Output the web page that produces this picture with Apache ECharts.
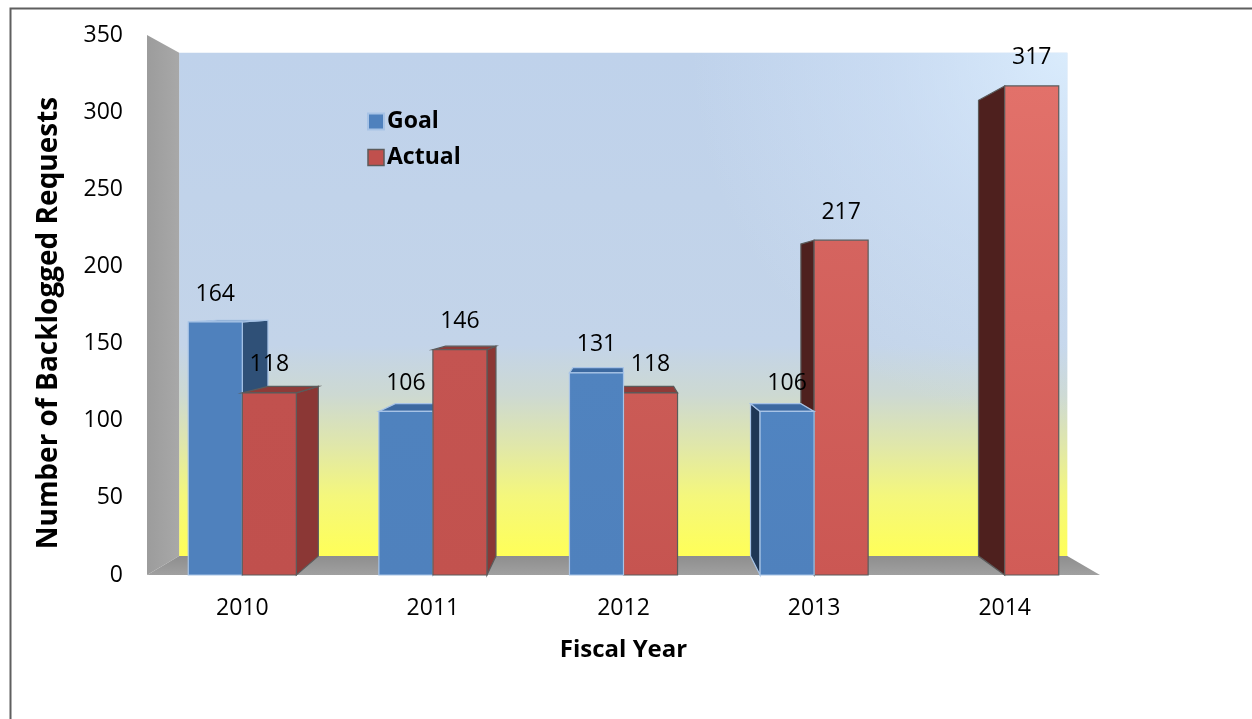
<!DOCTYPE html>
<html><head><meta charset="utf-8">
<script src="https://cdn.jsdelivr.net/npm/echarts@6/dist/echarts.min.js"></script>
<style>html,body{margin:0;padding:0;background:#fff}#c{width:1252px;height:719px}</style>
</head><body><div id="c"></div>
<script>
const categories = ['2010', '2011', '2012', '2013', '2014'];
const goalValues = [164, 106, 131, 106, null];
const actualValues = [118, 146, 118, 217, 317];
const seriesNames = ['Goal', 'Actual'];
const yMin = 0, yMax = 350, yInterval = 50;
const yTitle = 'Number of Backlogged Requests';
const xTitle = 'Fiscal Year';

const FONT = '"Open Sans", "Noto Sans", sans-serif';
const VP = [0.496, 0.485];
const DEPTH = 0.068;
const BAR_FRAC = 0.2835;

const STYLE = [
  { front: ['#4f81bd', '#4f81bd'], frontEnd: ['#5288c6', '#4f81bd'], sideR: '#2f5077', sideL: '#1f3756', top: '#3c69a0', stroke: '#a7c3e6' },
  { front: ['#c0504d', '#c0504d'], frontEnd: ['#e8766f', '#d45e59'], sideR: '#8b3735', sideL: '#4e201e', top: '#8e3b38', stroke: '#5b5b5b' }
];

function backPt(p, vp) { return [p[0] + DEPTH * (vp[0] - p[0]), p[1] + DEPTH * (vp[1] - p[1])]; }
function vpOf(cs) { return [cs.x + VP[0] * cs.width, cs.y + VP[1] * cs.height]; }
function hex2rgb(h) { return [parseInt(h.substr(1, 2), 16), parseInt(h.substr(3, 2), 16), parseInt(h.substr(5, 2), 16)]; }
function mix(a, b, t) {
  const A = hex2rgb(a), B = hex2rgb(b);
  return 'rgb(' + A.map((v, i) => Math.round(v + (B[i] - v) * t)).join(',') + ')';
}

function makeBarRender(sIdx) {
  const st = STYLE[sIdx];
  return function (params, api) {
    const cat = api.value(0), v = api.value(1);
    if (v == null || isNaN(v)) return;
    const cs = params.coordSys, vp = vpOf(cs);
    const base = api.coord([cat, 0]);
    const topP = api.coord([cat, v]);
    const bw = api.size([1, 0])[0] * BAR_FRAC;
    const x0 = sIdx === 0 ? base[0] - bw : base[0];
    const x1 = x0 + bw;
    const yb = base[1], yt = topP[1];
    const cx = (x0 + x1) / 2;
    const zb = Math.round(20000 - Math.abs(cx - vp[0]) * 10);
    const children = [];
    const strokeStyle = { stroke: st.stroke, lineWidth: 1.2 };
    if (x1 < vp[0]) {
      const pts = [[x1, yt], [x1, yb], backPt([x1, yb], vp), backPt([x1, yt], vp)];
      children.push({ type: 'polygon', z2: zb, shape: { points: pts }, style: Object.assign({ fill: st.sideR }, strokeStyle) });
    } else if (x0 > vp[0]) {
      const pts = [[x0, yt], [x0, yb], backPt([x0, yb], vp), backPt([x0, yt], vp)];
      children.push({ type: 'polygon', z2: zb, shape: { points: pts }, style: Object.assign({ fill: st.sideL }, strokeStyle) });
    }
    if (yt > vp[1]) {
      const pts = [[x0, yt], [x1, yt], backPt([x1, yt], vp), backPt([x0, yt], vp)];
      children.push({ type: 'polygon', z2: zb + 1, shape: { points: pts }, style: Object.assign({ fill: st.top }, strokeStyle) });
    }
    const f = Math.pow(Math.max(0, Math.min(1, (cx - cs.x) / cs.width)), 2);
    const cTop = mix(st.front[0], st.frontEnd[0], f);
    const cBot = mix(st.front[1], st.frontEnd[1], f);
    children.push({
      type: 'rect', z2: zb + 2,
      shape: { x: x0, y: yt, width: bw, height: yb - yt },
      style: Object.assign({
        fill: new echarts.graphic.LinearGradient(0, 0, 0, 1, [{ offset: 0, color: cTop }, { offset: 1, color: cBot }])
      }, strokeStyle)
    });
    children.push({
      type: 'text', z2: 50000,
      style: { x: cx, y: yt - 28, text: String(v), font: '23px ' + FONT, fill: '#000', align: 'center', verticalAlign: 'middle' }
    });
    return { type: 'group', children: children };
  };
}

function renderWalls(params, api) {
  const cs = params.coordSys, vp = vpOf(cs);
  const L = cs.x, R = cs.x + cs.width, T = cs.y, B = cs.y + cs.height;
  const bTL = backPt([L, T], vp), bTR = backPt([R, T], vp), bBL = backPt([L, B], vp), bBR = backPt([R, B], vp);
  const wall = { x: bTL[0], y: bTL[1], width: bTR[0] - bTL[0], height: bBL[1] - bTL[1] };
  return {
    type: 'group',
    children: [
      { type: 'rect', z2: 1, shape: wall,
        style: { fill: new echarts.graphic.LinearGradient(0, 0, 0, 1, [
          { offset: 0, color: '#bfd2eb' }, { offset: 0.58, color: '#c3d4e9' }, { offset: 0.68, color: '#cdd9d2' },
          { offset: 0.78, color: '#e0e7aa' }, { offset: 0.88, color: '#f4f77c' }, { offset: 1, color: '#ffff58' }]) } },
      { type: 'rect', z2: 2, shape: wall,
        style: { fill: new echarts.graphic.RadialGradient(1, 0, 0.75, [
          { offset: 0, color: 'rgba(222,240,255,0.85)' }, { offset: 0.5, color: 'rgba(215,232,252,0.4)' }, { offset: 1, color: 'rgba(215,232,252,0)' }]) } },
      { type: 'polygon', z2: 3, shape: { points: [[L, T], [L, B], bBL, bTL] },
        style: { fill: new echarts.graphic.LinearGradient(0, 0, 1, 0, [{ offset: 0, color: '#9c9c9c' }, { offset: 1, color: '#a8a8a8' }]) } },
      { type: 'polygon', z2: 3, shape: { points: [[L, B], [R, B], bBR, bBL] },
        style: { fill: new echarts.graphic.LinearGradient(0, 0, 0, 1, [{ offset: 0, color: '#8e8e8e' }, { offset: 1, color: '#a0a0a0' }]) } }
    ]
  };
}

const chart = echarts.init(document.getElementById('c'), null, { renderer: 'canvas' });
chart.setOption({
  animation: false,
  backgroundColor: '#ffffff',
  textStyle: { fontFamily: FONT },
  graphic: [{ type: 'rect', left: 8, top: 6, shape: { width: 1400, height: 900 }, style: { fill: 'none', stroke: '#5f5f5f', lineWidth: 2 }, silent: true }],
  grid: { left: 147, right: 152, top: 35, bottom: 144, containLabel: false },
  legend: {
    orient: 'vertical', left: 362, top: 105, itemWidth: 16, itemHeight: 16, itemGap: 13,
    textStyle: { fontSize: 23, fontWeight: 'bold', color: '#000', fontFamily: FONT, padding: [0, 0, 0, -2] },
    data: [
      { name: seriesNames[0], icon: 'rect', itemStyle: { color: '#4f81bd', borderColor: '#a7c3e6', borderWidth: 2 } },
      { name: seriesNames[1], icon: 'rect', itemStyle: { color: '#c0504d', borderColor: '#5b5b5b', borderWidth: 1.5 } }
    ]
  },
  xAxis: {
    type: 'category', data: categories,
    axisLine: { show: false }, axisTick: { show: false },
    axisLabel: { fontSize: 23, color: '#000', margin: 22, fontFamily: FONT },
    name: xTitle, nameLocation: 'middle', nameGap: 63,
    nameTextStyle: { fontSize: 24, fontWeight: 'bold', color: '#000', fontFamily: FONT }
  },
  yAxis: {
    type: 'value', min: yMin, max: yMax, interval: yInterval,
    axisLine: { show: false }, axisTick: { show: false }, splitLine: { show: false },
    axisLabel: { fontSize: 23, color: '#000', margin: 24, fontFamily: FONT },
    name: yTitle, nameLocation: 'middle', nameGap: 84, nameRotate: 90,
    nameTextStyle: { fontSize: 28, fontWeight: 'bold', color: '#000', fontFamily: FONT, padding: [0, 36, 0, 0] }
  },
  series: [
    { type: 'custom', name: '_walls', silent: true, z: 1, renderItem: renderWalls, data: [[0, 0]], encode: { x: 0, y: 1 } },
    { type: 'custom', name: seriesNames[0], z: 2, renderItem: makeBarRender(0), itemStyle: { color: '#4f81bd' },
      data: categories.map((c, i) => [i, goalValues[i]]), encode: { x: 0, y: 1 } },
    { type: 'custom', name: seriesNames[1], z: 2, renderItem: makeBarRender(1), itemStyle: { color: '#c0504d' },
      data: categories.map((c, i) => [i, actualValues[i]]), encode: { x: 0, y: 1 } }
  ]
});
</script></body></html>
